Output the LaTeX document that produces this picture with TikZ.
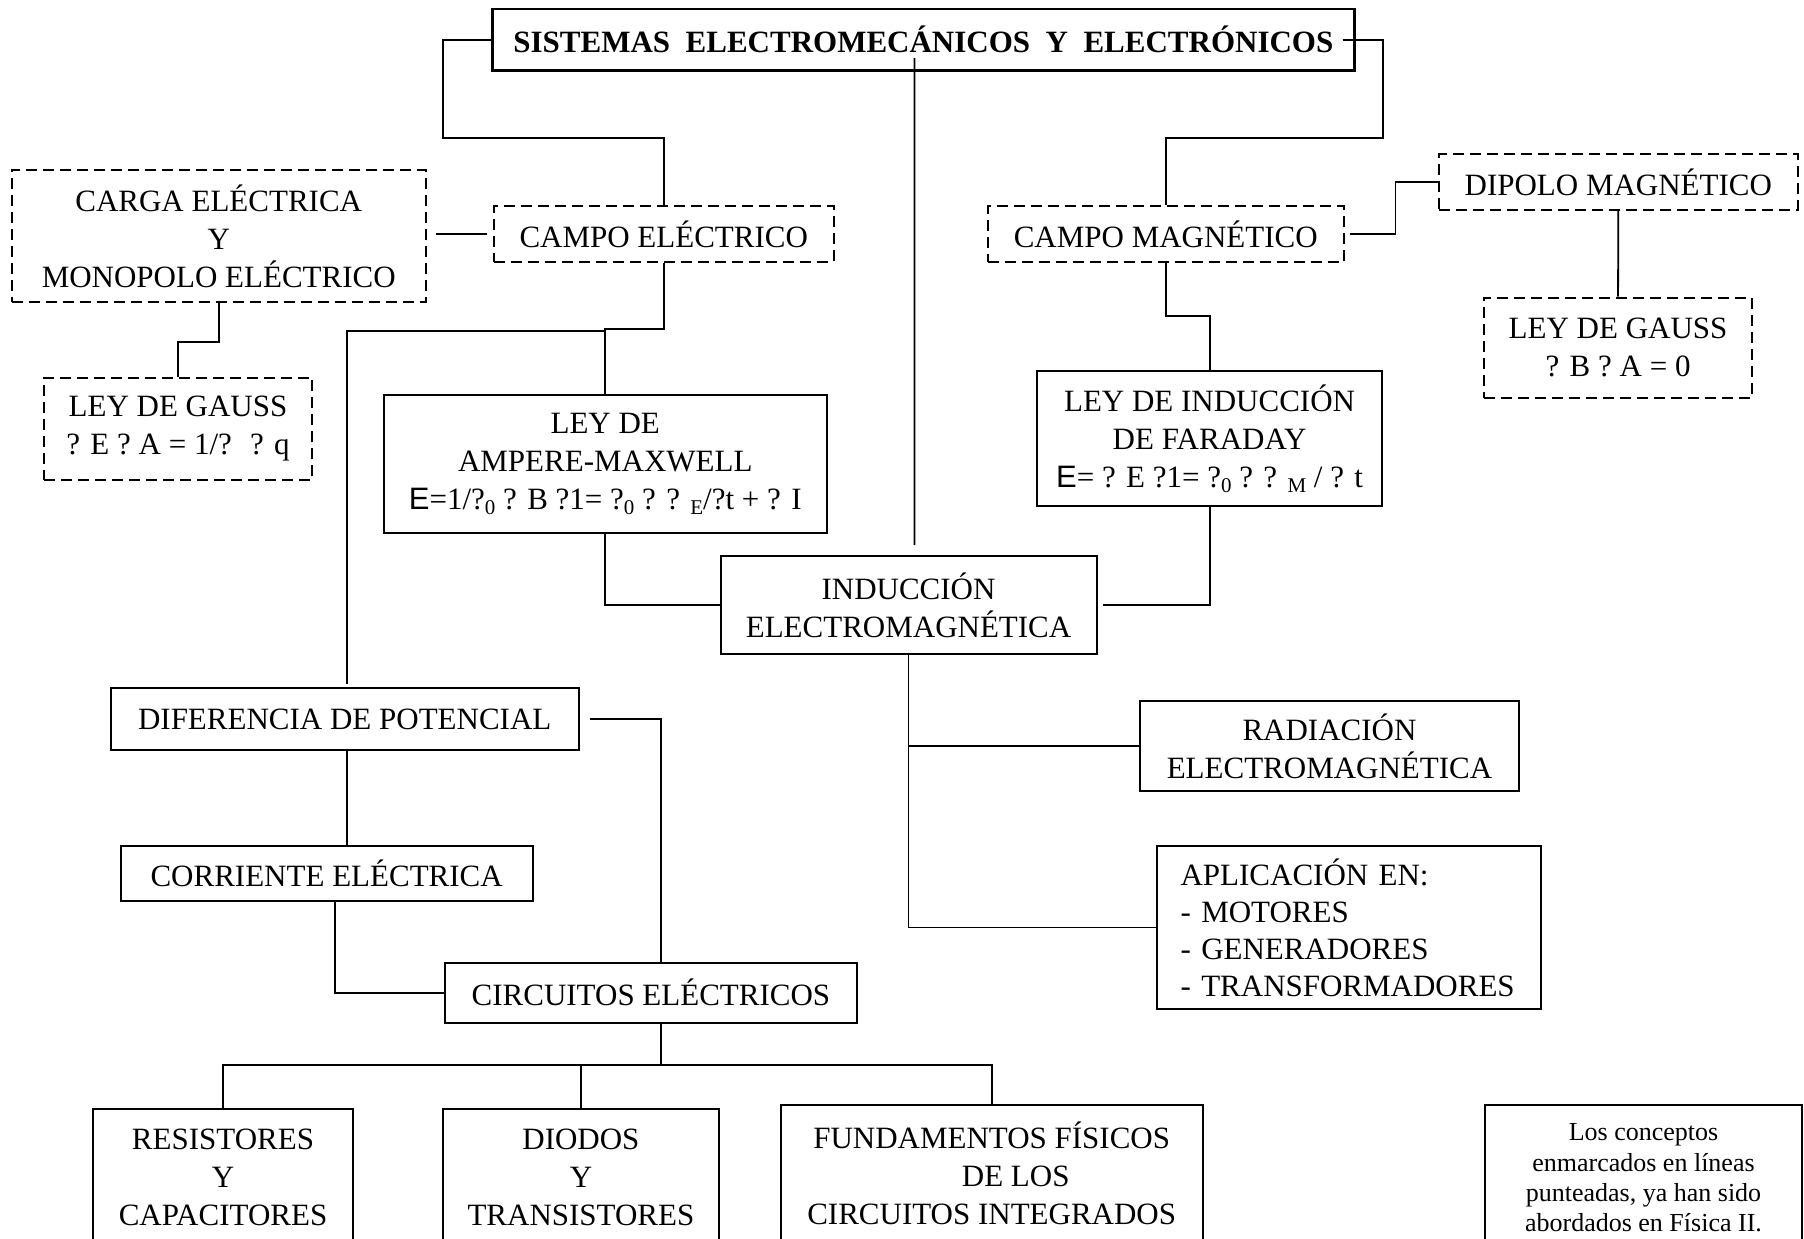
\documentclass[tikz,border=0pt]{standalone}
\usepackage{fontspec}
\setmainfont{Liberation Serif}
\newfontfamily\arialfont{Liberation Sans}
\usetikzlibrary{calc}
\newcommand{\sbs}[1]{\raisebox{-0.35ex}{\fontsize{10.5}{10.5}\selectfont #1}}
\newcommand{\sansE}{{\arialfont E}}
\begin{document}
\begin{tikzpicture}[x=0.5pt,y=-0.5pt,
  box/.style={draw, line width=1pt, align=center, inner sep=0pt, font=\fontsize{15.5}{19}\selectfont},
  dbox/.style={box, dash pattern=on 5.5pt off 3pt},
  conn/.style={line width=0.9pt}]
\useasboundingbox (0,0) rectangle (1804,1238);
\clip (0,0) rectangle (1804,1238);
\fill[white] (0,0) rectangle (1804,1238);

% nodes
\node[box, line width=1.3pt, minimum width=430.9pt, minimum height=30.9pt] (title) at (923.4,39.8)
  {\bfseries SISTEMAS\ \ ELECTROMECÁNICOS\ \ Y\ \ ELECTRÓNICOS};
\node[dbox, minimum width=207.25pt, minimum height=65.9pt] (carga) at (218.75,235.9)
  {CARGA ELÉCTRICA\\Y\\MONOPOLO ELÉCTRICO};
\node[dbox, minimum width=169.75pt, minimum height=27.9pt] (ce) at (663.75,233.9) {CAMPO ELÉCTRICO};
\node[dbox, minimum width=134pt, minimum height=51.45pt] (gaussE) at (178,428.95)
  {LEY DE GAUSS\\? E ? A = 1/? \ ? q};
\node[box, minimum width=221.75pt, minimum height=69.15pt] (ampere) at (605.25,463.75)
  {LEY DE\\AMPERE-MAXWELL\\\sansE=1/?\sbs{0} ? B ?1= ?\sbs{0} ? ? \sbs{E}/?t + ? I};
\node[dbox, minimum width=178.15pt, minimum height=27.9pt] (cm) at (1165.75,233.9) {CAMPO MAGNÉTICO};
\node[dbox, minimum width=179.3pt, minimum height=27.65pt] (dipolo) at (1618.3,181.95) {DIPOLO MAGNÉTICO};
\node[dbox, minimum width=134.05pt, minimum height=50pt] (gaussB) at (1618.05,347.5)
  {LEY DE GAUSS\\? B ? A = 0};
\node[box, minimum width=172.4pt, minimum height=67.85pt] (faraday) at (1209.6,438.55)
  {LEY DE INDUCCIÓN\\DE FARADAY\\\sansE= ? E ?1= ?\sbs{0} ? ? \sbs{M} / ? t};
\node[box, minimum width=188.05pt, minimum height=49.1pt] (induccion) at (908.55,605.1)
  {INDUCCIÓN\\ELECTROMAGNÉTICA};
\node[box, minimum width=233.9pt, minimum height=30.9pt] (dif) at (344.7,719.3) {DIFERENCIA DE POTENCIAL};
\node[box, minimum width=206.05pt, minimum height=27.25pt] (corr) at (326.65,873.45) {CORRIENTE ELÉCTRICA};
\node[box, minimum width=206.05pt, minimum height=29.8pt] (circ) at (650.95,992.8) {CIRCUITOS ELÉCTRICOS};
\node[box, minimum width=189.1pt, minimum height=44.95pt] (rad) at (1329.5,745.95)
  {RADIACIÓN\\ELECTROMAGNÉTICA};
\node[box, align=left, text width=167.95pt, inner xsep=12pt, minimum height=81.3pt,
  font=\fontsize{15.5}{18.5}\selectfont] (aplic) at (1348.55,927.5)
  {APLICACIÓN EN:\\- MOTORES\\- GENERADORES\\- TRANSFORMADORES};
\node[box, minimum width=130pt, minimum height=68pt] (resist) at (223,1177)
  {RESISTORES\\Y\\CAPACITORES};
\node[box, minimum width=137.75pt, minimum height=68pt] (diodos) at (580.95,1177)
  {DIODOS\\Y\\TRANSISTORES};
\node[box, minimum width=211pt, minimum height=68.3pt] (fund) at (991.7,1173)
  {FUNDAMENTOS FÍSICOS\\\hspace*{24pt}DE LOS\\CIRCUITOS INTEGRADOS};
\node[box, minimum width=158.5pt, minimum height=73.3pt, font=\fontsize{13}{15.2}\selectfont] (note) at (1643.5,1178)
  {Los conceptos\\enmarcados en líneas\\punteadas, ya han sido\\abordados en Física II.};

% connectors
\coordinate (c1) at (443,138);
\coordinate (c2) at (1383,138);
\coordinate (c7) at (606,331);
\draw[conn] (title.west) -| (c1) -| (ce.north);
\draw[conn] ($(title.east)+(-13,0)$) -| (c2) -| (cm.north);
\draw[conn] ($(title.south)+(-9,-14)$) -- ($(induccion.north)+(6,-10)$);
\draw[conn] ($(ce.west)+(-57,0)$) -- ($(ce.west)+(-6,0)$);
\draw[conn] (carga.south) -- ++(0,39) -| (gaussE.north);
\draw[conn] (ce.south) -- ++(0,66) -| (ampere.north);
\draw[conn] (c7) -| ($(dif.north)+(2.6,-3)$);
\draw[conn] (ampere.south) |- (induccion.west);
\draw[conn] (faraday.south) |- ($(induccion.east)+(5,0)$);
\draw[conn] (cm.south) -- ++(0,53.2) -| (faraday.north);
\draw[conn] ($(cm.east)+(4.6,0)$) -- ++(46,0) |- (dipolo.west);
\draw[conn] (dipolo.south) -- (gaussB.north);
\draw[conn] (induccion.south) |- (aplic.west);
\draw[conn] (rad.west) -- (rad.west -| induccion.south);
\draw[conn] ($(dif.east)+(10,0)$) -| ($(circ.north)+(10,0)$);
\draw[conn] ($(dif.south)+(2.6,0)$) -- ($(dif.south |- corr.north)+(2.6,0)$);
\draw[conn] ($(corr.south)+(8.5,0)$) |- (circ.west);
\coordinate (c17) at ($(circ.south)+(10,41)$);
\draw[conn] ($(circ.south)+(10,0)$) -- (c17);
\draw[conn] (c17) -| (resist.north);
\draw[conn] (c17) -| (fund.north);
\draw[conn] (diodos.north) -- (diodos.north |- c17);
\end{tikzpicture}
\end{document}
